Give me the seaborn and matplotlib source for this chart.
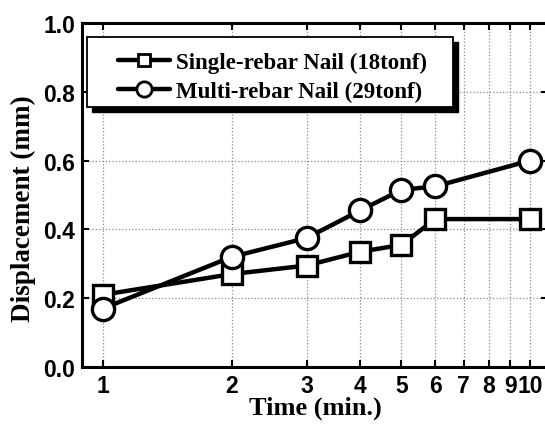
import matplotlib
matplotlib.use("Agg")
import matplotlib.pyplot as plt
from matplotlib.ticker import FixedLocator, FixedFormatter, NullLocator
from matplotlib.lines import Line2D
from matplotlib.patches import Rectangle
import seaborn as sns
import pandas as pd

time_min = [1, 2, 3, 4, 5, 6, 10]
single_rebar = [0.21, 0.27, 0.295, 0.335, 0.355, 0.43, 0.43]
multi_rebar = [0.17, 0.32, 0.375, 0.455, 0.515, 0.525, 0.60]
series_names = ["Single-rebar Nail (18tonf)", "Multi-rebar Nail (29tonf)"]
x_ticks = [1, 2, 3, 4, 5, 6, 7, 8, 9, 10]
x_tick_labels = ["1", "2", "3", "4", "5", "6", "7", "8", "9", "10"]
y_ticks = [0.0, 0.2, 0.4, 0.6, 0.8, 1.0]

df = pd.DataFrame({
    "Time": time_min * 2,
    "Disp": single_rebar + multi_rebar,
    "Series": [series_names[0]] * len(time_min) + [series_names[1]] * len(time_min),
})

sns.set_theme(style="ticks")
plt.rcParams["font.family"] = ["Liberation Sans", "DejaVu Sans"]
plt.rcParams["text.color"] = "black"
plt.rcParams["axes.labelcolor"] = "black"
plt.rcParams["xtick.color"] = "black"
plt.rcParams["ytick.color"] = "black"
serif = ["Liberation Serif", "DejaVu Serif"]

W, H = 545, 427
fig = plt.figure(figsize=(W / 100, H / 100), dpi=100)
ax_l, ax_r, ax_t, ax_b = 82, 548, 24, 368
ax = fig.add_axes([ax_l / W, 1 - ax_b / H, (ax_r - ax_l) / W, (ax_b - ax_t) / H])

def ax_x(px):
    return (px - ax_l) / (ax_r - ax_l)

def ax_y(py):
    return (ax_b - py) / (ax_b - ax_t)

sns.lineplot(data=df, x="Time", y="Disp", style="Series", markers=["s", "o"],
             dashes=False, color="black", linewidth=3.2, markersize=14,
             markerfacecolor="white", markeredgecolor="black", markeredgewidth=2.4,
             ax=ax, legend=False)
lines = ax.get_lines()
if len(lines) >= 2:
    lines[0].set_markersize(14)
    lines[1].set_markersize(16)

ax.set_xscale("log")
ax.set_xlim(0.893, 11.02)
ax.set_ylim(0, 1.0)
ax.xaxis.set_major_locator(FixedLocator(x_ticks))
ax.xaxis.set_major_formatter(FixedFormatter(x_tick_labels))
ax.xaxis.set_minor_locator(NullLocator())
ax.set_yticks(y_ticks)
ax.set_yticklabels([f"{v:.1f}" for v in y_ticks])

for lab in ax.get_xticklabels() + ax.get_yticklabels():
    lab.set_fontweight("bold")
    lab.set_fontsize(16.5)
    lab.set_color("black")
ax.tick_params(axis="both", which="both", direction="in", top=True, right=True,
               length=5, width=1.5, colors="black", pad=5)

ax.grid(True, linestyle=":", color="#8a8a8a", linewidth=0.9)
for s in ax.spines.values():
    s.set_linewidth(2.2)
    s.set_color("black")

ax.set_xlabel("Time (min.)", fontsize=19, fontweight="bold", family=serif,
              labelpad=-1, color="black")
ax.set_ylabel("Displacement (mm)", fontsize=19.5, fontweight="bold", family=serif,
              color="black")
ax.yaxis.set_label_coords(ax_x(36), ax_y(209))

# legend frame with solid black shadow
fx0, fx1, fy0, fy1 = 87, 453, 38, 108
sh = 5
ax.add_patch(Rectangle((ax_x(fx0 + sh), ax_y(fy1 + sh)), ax_x(fx1) - ax_x(fx0),
                       ax_y(fy0) - ax_y(fy1), transform=ax.transAxes,
                       facecolor="black", edgecolor="black", zorder=5, clip_on=False))
ax.add_patch(Rectangle((ax_x(fx0), ax_y(fy1)), ax_x(fx1) - ax_x(fx0),
                       ax_y(fy0) - ax_y(fy1), transform=ax.transAxes,
                       facecolor="white", edgecolor="black", linewidth=1.3,
                       zorder=6, clip_on=False))

handles = [
    Line2D([], [], color="black", lw=3.2, marker="s", markersize=9,
           markerfacecolor="white", markeredgecolor="black", markeredgewidth=2),
    Line2D([], [], color="black", lw=3.2, marker="o", markersize=11,
           markerfacecolor="white", markeredgecolor="black", markeredgewidth=2),
]
leg = ax.legend(handles, series_names, loc="upper left",
                bbox_to_anchor=(ax_x(118), ax_y(53)), frameon=False,
                handlelength=2.29, handletextpad=0.25,
                borderpad=0, labelspacing=0.34, borderaxespad=0,
                prop={"family": serif, "weight": "bold", "size": 16.5})
leg.set_zorder(7)
for t in leg.get_texts():
    t.set_color("black")

fig.savefig("out.png", dpi=100)
